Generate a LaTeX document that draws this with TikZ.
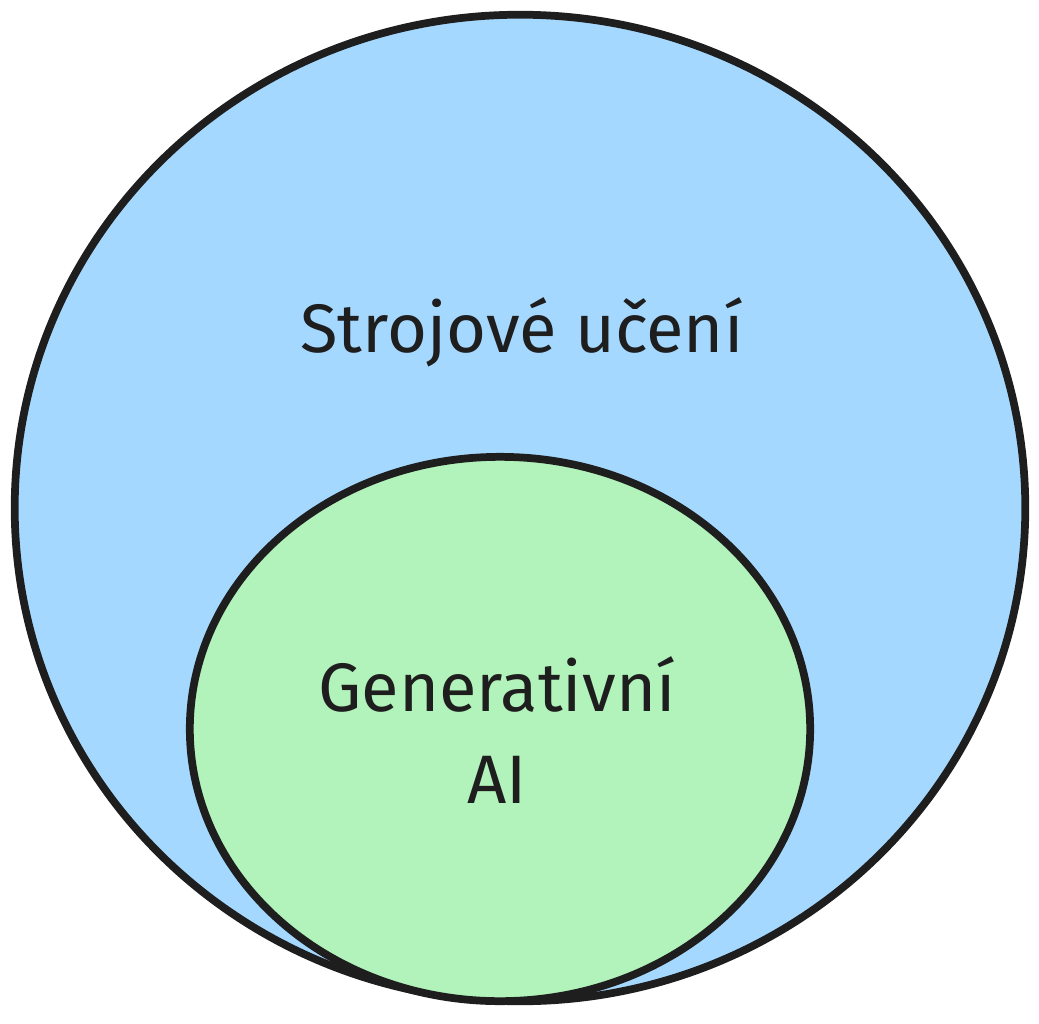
\documentclass[tikz,border=0pt]{standalone}
\usepackage{fontspec}
\usetikzlibrary{shapes.geometric}
\setmainfont{Fira Sans}
\definecolor{mlblue}{HTML}{A5D8FF}
\definecolor{gagreen}{HTML}{B2F2BB}
\definecolor{ink}{HTML}{1E1E1E}
\begin{document}
\begin{tikzpicture}[x=0.01cm,y=-0.01cm,
  circ/.style={draw=ink,line width=2.2pt,ellipse,inner sep=0pt},
  lbl/.style={text=ink,font=\fontsize{19.5}{26}\selectfont,align=center}]
\useasboundingbox (0,0) rectangle (1039,1024);
\fill[white] (0,0) rectangle (1039,1024);
\node[circ,fill=mlblue,minimum width=10.10cm,minimum height=9.86cm] (outer) at (520,508) {};
\node[circ,fill=gagreen,minimum width=6.20cm,minimum height=5.44cm] (inner) at (500,729) {};
\node[lbl] (ml) at (522,332) {Strojové učení};
\node[lbl] (ga) at (497,730) {Generativní\\AI};
\end{tikzpicture}
\end{document}
